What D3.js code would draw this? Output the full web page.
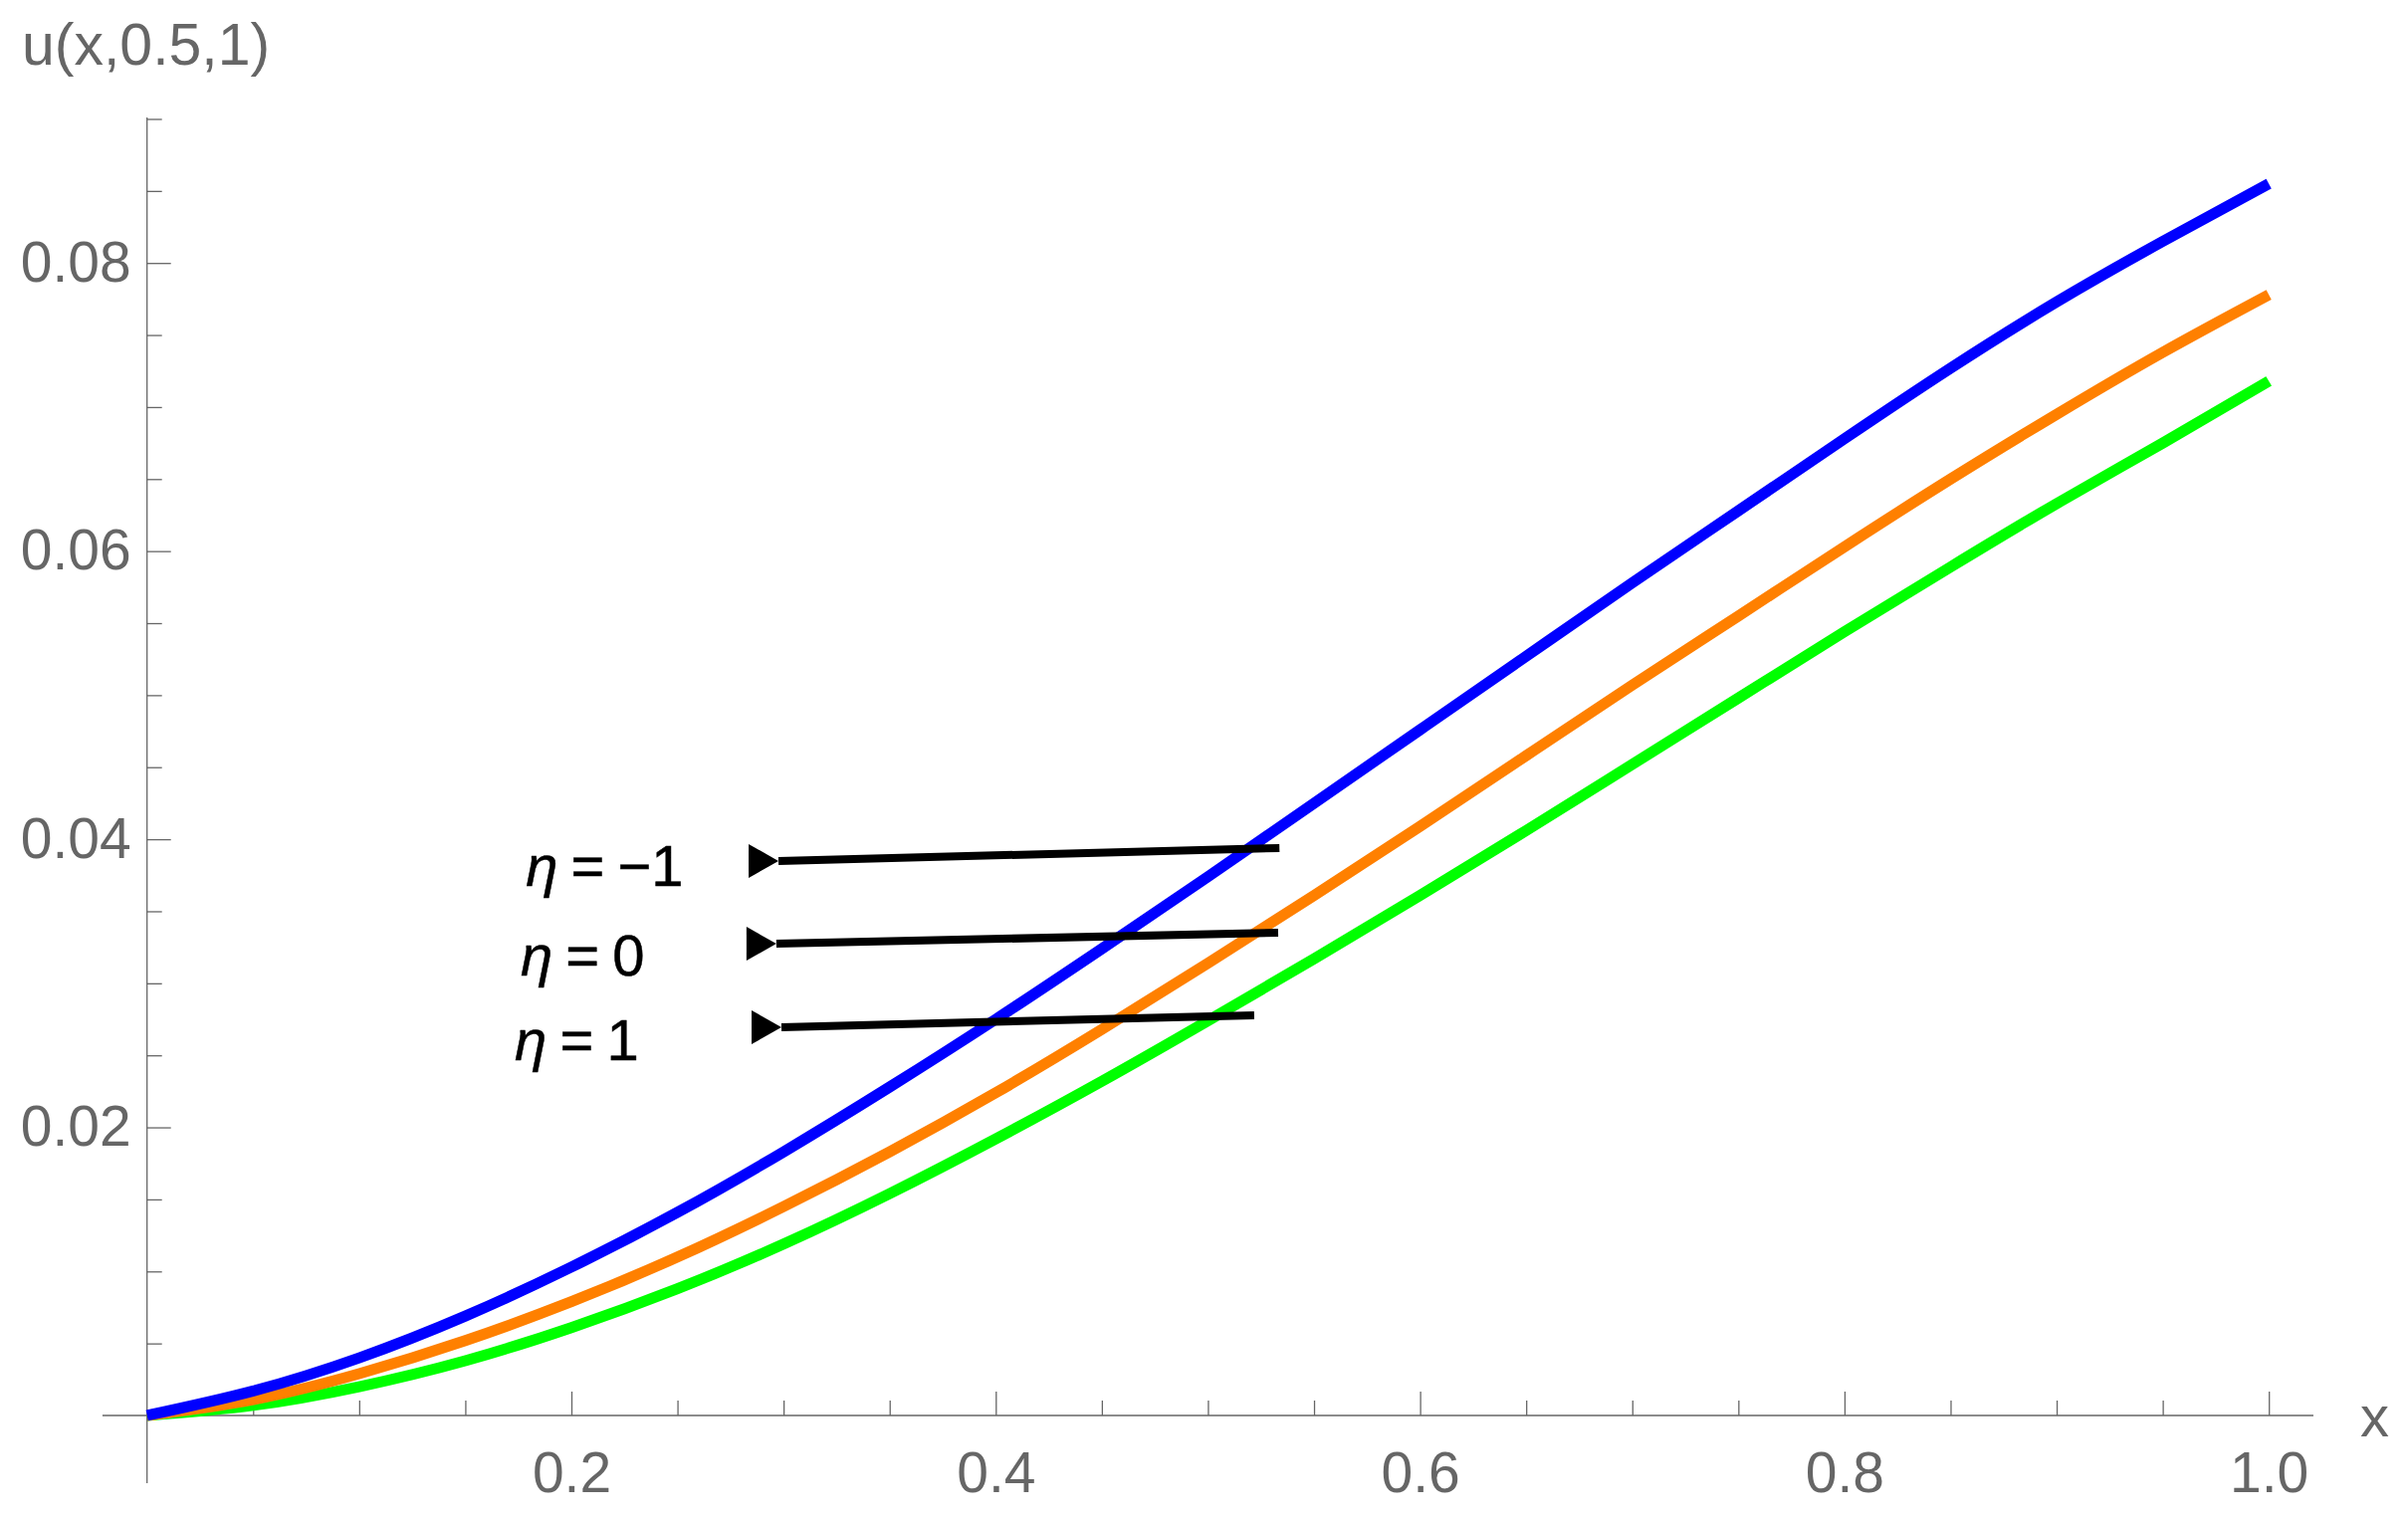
<!DOCTYPE html>
<html>
<head>
<meta charset="utf-8">
<script src="https://cdn.jsdelivr.net/npm/d3@7"></script>
<style>
  body { margin: 0; background: #fff; }
  text { font-family: "Liberation Sans", Arial, sans-serif; }
</style>
</head>
<body>
<script>
// sample positions along x, and the three curves
var xs = [0, 0.05, 0.1, 0.15, 0.2, 0.25, 0.3, 0.35, 0.4, 0.45, 0.5,
          0.55, 0.6, 0.65, 0.7, 0.75, 0.8, 0.85, 0.9, 0.95, 1.0]
var uEtaMinus1 = [0, 0.0017, 0.0040, 0.0069, 0.0103, 0.0141, 0.0183, 0.0228, 0.0275, 0.0324, 0.0374,
                  0.0425, 0.0476, 0.0527, 0.0578, 0.0628, 0.0678, 0.0727, 0.0773, 0.0815, 0.0855]
var uEta0 = [0, 0.0011, 0.0029, 0.0052, 0.0079, 0.0110, 0.0145, 0.0183, 0.0224, 0.0268, 0.0314,
             0.0361, 0.0409, 0.0458, 0.0507, 0.0555, 0.0603, 0.0650, 0.0695, 0.0738, 0.0778]
var uEta1 = [0, 0.0007, 0.0020, 0.0038, 0.0061, 0.0088, 0.0119, 0.0154, 0.0192, 0.0232, 0.0274,
             0.0317, 0.0361, 0.0406, 0.0452, 0.0498, 0.0544, 0.0589, 0.0633, 0.0675, 0.0718]
var seriesColors = ['#0000ff', '#ff8000', '#00ff00']

var xMajorTicks = [0.2, 0.4, 0.6, 0.8, 1.0]
var xMinorTicks = [0.05, 0.1, 0.15, 0.25, 0.3, 0.35, 0.45, 0.5, 0.55, 0.65, 0.7, 0.75, 0.85, 0.9, 0.95]
var yMajorTicks = [0.02, 0.04, 0.06, 0.08]
var yMinorTicks = [0.005, 0.01, 0.015, 0.025, 0.03, 0.035, 0.045, 0.05, 0.055,
                   0.065, 0.07, 0.075, 0.085, 0.09]

// annotations: label text, label anchor (x,u), arrow tip (x,u), arrow tail (x,u)
var labelValues = ['\u22121', '0', '1']
var labelPos = [[0.1785, 0.03676], [0.1761, 0.03054], [0.1733, 0.02467]]
var arrowTip = [[0.2976, 0.03849], [0.2966, 0.03275], [0.2990, 0.02695]]
var arrowTail = [[0.5337, 0.03939], [0.5331, 0.03351], [0.5218, 0.02778]]

var svgWidth = 2419, svgHeight = 1528
var axisColor = '#666666'

var svg = d3.select('body').append('svg')
    .attr('width', svgWidth)
    .attr('height', svgHeight)

svg.append('rect').attr('width', svgWidth).attr('height', svgHeight).attr('fill', '#fff')

var x = d3.scaleLinear().domain([0, 1]).range([147.7, 2279.2])
var y = d3.scaleLinear().domain([0, 0.08]).range([1422, 264.2])

// axis lines (they run a bit past the origin, like the original)
svg.append('line')
    .attr('x1', x(-0.021)).attr('x2', x(1.021))
    .attr('y1', y(0)).attr('y2', y(0))
    .attr('stroke', axisColor).attr('stroke-width', 1.3)
svg.append('line')
    .attr('x1', x(0)).attr('x2', x(0))
    .attr('y1', y(-0.0047)).attr('y2', y(0.0901))
    .attr('stroke', axisColor).attr('stroke-width', 1.3)

function styleAxis(g) {
    g.select('.domain').remove()
    g.selectAll('line').attr('stroke', axisColor).attr('stroke-width', 1.3)
    g.selectAll('text')
	.attr('fill', axisColor)
	.attr('font-size', 57)
	.attr('font-family', '"Liberation Sans", Arial, sans-serif')
}

svg.append('g')
    .attr('transform', 'translate(0,' + y(0) + ')')
    .call(d3.axisBottom(x).tickValues(xMajorTicks).tickSize(-24).tickPadding(37)
	  .tickFormat(d3.format('.1f')))
    .call(styleAxis)
svg.append('g')
    .attr('transform', 'translate(0,' + y(0) + ')')
    .call(d3.axisBottom(x).tickValues(xMinorTicks).tickSize(-15).tickFormat(''))
    .call(styleAxis)

svg.append('g')
    .attr('transform', 'translate(' + x(0) + ',0)')
    .call(d3.axisLeft(y).tickValues(yMajorTicks).tickSize(-24).tickPadding(16)
	  .tickFormat(d3.format('.2f')))
    .call(styleAxis)
svg.append('g')
    .attr('transform', 'translate(' + x(0) + ',0)')
    .call(d3.axisLeft(y).tickValues(yMinorTicks).tickSize(-15).tickFormat(''))
    .call(styleAxis)

// axis labels
svg.append('text')
    .attr('x', 22).attr('y', 65)
    .attr('font-size', 59).attr('fill', axisColor)
    .text('u(x,0.5,1)')
svg.append('text')
    .attr('x', 2371).attr('y', 1443)
    .attr('font-size', 58).attr('fill', axisColor)
    .text('x')

// curves
var allSeries = [uEta1, uEta0, uEtaMinus1]
var allColors = [seriesColors[2], seriesColors[1], seriesColors[0]]
var line = d3.line()
    .x(function(d) {return x(d[0]);})
    .y(function(d) {return y(d[1]);})
    .curve(d3.curveNatural)

svg.selectAll('path.curve')
    .data(allSeries)
    .enter()
    .append('path')
    .attr('class', 'curve')
    .attr('d', function(s) {return line(xs.map(function(v, i) {return [v, s[i]];}));})
    .attr('fill', 'none')
    .attr('stroke', function(d, i) {return allColors[i];})
    .attr('stroke-width', 11)
    .attr('stroke-linecap', 'butt')

// annotation arrows
labelValues.forEach(function(val, i) {
    var tx = x(arrowTip[i][0]), ty = y(arrowTip[i][1])
    svg.append('line')
	.attr('x1', tx).attr('y1', ty)
	.attr('x2', x(arrowTail[i][0])).attr('y2', y(arrowTail[i][1]))
	.attr('stroke', '#000').attr('stroke-width', 8)
    svg.append('path')
	.attr('d', 'M' + tx + ',' + ty + 'L' + (tx - 30) + ',' + (ty - 17) + 'L' + (tx - 30) + ',' + (ty + 17) + 'Z')
	.attr('fill', '#000')

    var t = svg.append('text')
	.attr('x', x(labelPos[i][0])).attr('y', y(labelPos[i][1]))
	.attr('font-size', 58).attr('fill', '#000')
	.attr('stroke', '#000').attr('stroke-width', 0.5)
	.attr('word-spacing', -3)
	.attr('xml:space', 'preserve')
    t.append('tspan').attr('font-style', 'italic').text('\u03b7')
    t.append('tspan').text(' = ' + val)
})
</script>
</body>
</html>
